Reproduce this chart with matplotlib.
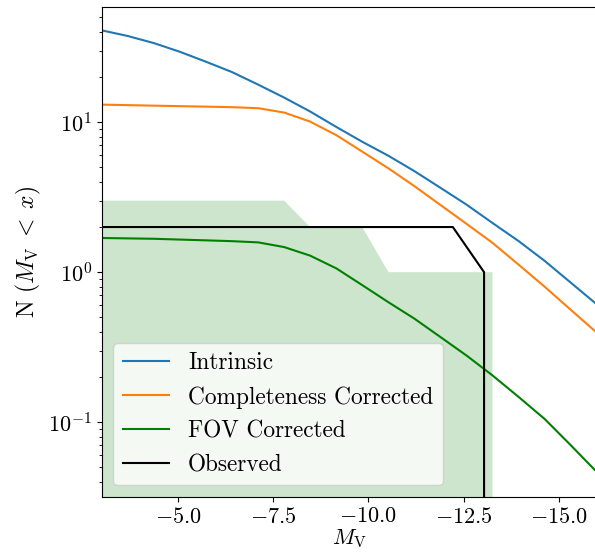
import matplotlib
matplotlib.use('Agg')
import matplotlib.pyplot as plt

plt.rcParams['font.family'] = 'serif'
plt.rcParams['font.serif'] = ['cmr10']
plt.rcParams['mathtext.fontset'] = 'cm'
plt.rcParams['axes.formatter.use_mathtext'] = True

# magnitude grid
mv = [-3.00, -3.68, -4.37, -5.05, -5.74, -6.42, -7.11, -7.79, -8.47, -9.16,
      -9.84, -10.53, -11.21, -11.89, -12.58, -13.26, -13.95, -14.63, -15.32, -16.00]

intrinsic = [41.0, 37.6, 33.7, 29.5, 25.3, 21.6, 17.8, 14.6, 11.8, 9.3,
             7.41, 5.97, 4.72, 3.66, 2.82, 2.13, 1.61, 1.19, 0.85, 0.61]
completeness = [13.1, 13.0, 12.9, 12.8, 12.7, 12.6, 12.4, 11.6, 10.1, 8.2,
                6.37, 4.92, 3.75, 2.81, 2.10, 1.57, 1.12, 0.80, 0.56, 0.395]
fov = [1.69, 1.68, 1.67, 1.65, 1.63, 1.61, 1.58, 1.47, 1.29, 1.06,
       0.82, 0.63, 0.49, 0.37, 0.278, 0.205, 0.147, 0.105, 0.070, 0.0465]
band_upper = [3, 3, 3, 3, 3, 3, 3, 3, 2, 2,
              2, 1, 1, 1, 1, 1, 0, 0, 0, 0]
band_lower = [0] * len(mv)

mv_obs = [-3.0, -12.22, -13.04, -13.04]
n_obs = [2, 2, 1, 0]

fig = plt.figure(figsize=(5.95, 5.53), dpi=100)
ax = fig.add_axes([0.171, 0.101, 0.832, 0.886])
ax.set_yscale('log')

ax.fill_between(mv, band_lower, band_upper, color='green', alpha=0.2, linewidth=0)
ax.plot(mv, intrinsic, color='tab:blue', lw=1.5, label='Intrinsic')
ax.plot(mv, completeness, color='tab:orange', lw=1.5, label='Completeness Corrected')
ax.plot(mv, fov, color='green', lw=1.5, label='FOV Corrected')
ax.plot(mv_obs, n_obs, color='black', lw=1.5, label='Observed')

ax.set_xlim(-3, -16)
ax.set_ylim(0.0316, 58.5)
ax.set_xticks([-5.0, -7.5, -10.0, -12.5, -15.0])
ax.tick_params(labelsize=16)
ax.set_xlabel(r'$M_{\rm V}$', fontsize=16, labelpad=0)
ax.set_ylabel(r'N $(M_{\rm V}\;<\;x)$', fontsize=17)
ax.legend(loc='lower left', fontsize=16.8)

fig.savefig('out.png', dpi=100)
